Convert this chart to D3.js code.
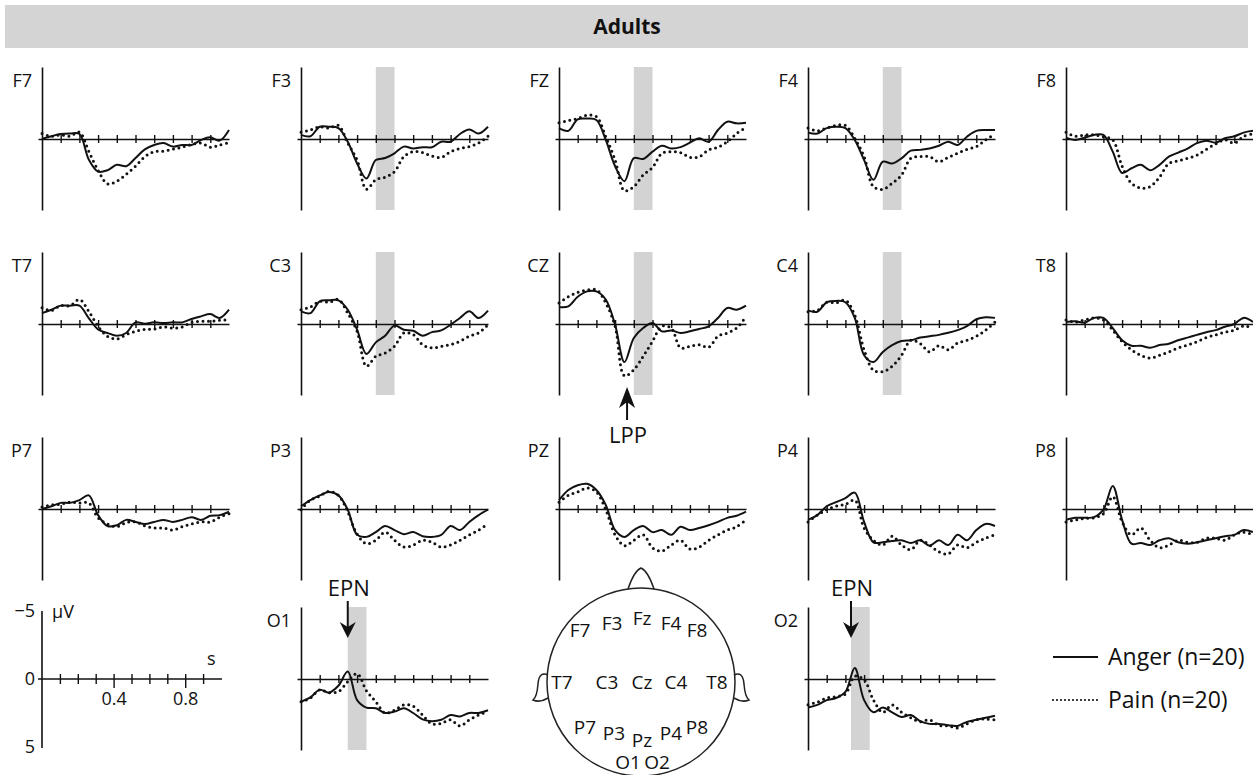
<!DOCTYPE html>
<html>
<head>
<meta charset="utf-8">
<script src="https://cdn.jsdelivr.net/npm/d3@7"></script>
<style>
  body { margin: 0; background: #fff; }
  text { font-family: "Open Sans", sans-serif; fill: #111; }
</style>
</head>
<body>
<div id="chart"></div>
<script>
// time points (s)
var times = [0, 0.05, 0.1, 0.15, 0.2, 0.25, 0.3, 0.35, 0.4, 0.45, 0.5,
             0.55, 0.6, 0.65, 0.7, 0.75, 0.8, 0.85, 0.9, 0.95, 1.0];

// amplitudes in µV (positive plotted down)
var anger_F7 = [0, -0.2, -0.37, -0.4, -0.37, 1.5, 2.4, 2.3, 1.9, 2.0, 1.4, 0.76, 0.44, 0.3, 0.56, 0.44, 0.44, 0.07, -0.12, 0.12, -0.66];
var pain_F7  = [-0.4, -0.2, -0.3, -0.2, -0.5, 0.9, 2.3, 3.3, 3.1, 2.6, 2.0, 1.3, 0.93, 0.9, 0.75, 0.6, 0.4, 0.3, 0.6, 0.45, 0.27];
var anger_F3 = [-0.3, -0.2, -0.9, -0.9, -0.8, 0.2, 1.8, 2.9, 1.55, 1.4, 1.05, 0.56, 0.7, 0.6, 0.6, 0.2, 0.2, -0.37, -0.7, -0.4, -0.9];
var pain_F3  = [-0.5, -0.66, -0.9, -0.8, -1.0, 0.3, 1.55, 3.7, 3.0, 2.8, 2.4, 1.3, 0.93, 1.0, 1.25, 1.35, 0.93, 0.7, 0.56, 0.3, -0.2];
var anger_FZ = [-0.8, -0.6, -1.45, -1.5, -1.4, 0.07, 2.0, 3.1, 1.4, 1.47, 0.93, 0.5, 0.7, 0.6, 0.27, -0.05, 0.2, -0.66, -1.27, -1.15, -1.2];
var pain_FZ  = [-1.2, -1.35, -1.5, -1.75, -1.65, -0.17, 1.55, 3.8, 3.5, 2.65, 2.1, 1.05, 0.93, 1.0, 1.35, 1.3, 0.8, 0.6, 0.2, -0.4, -0.86];
var anger_F4 = [-0.47, -0.4, -0.8, -0.9, -0.8, 0.07, 1.55, 3.0, 1.67, 1.8, 1.42, 0.86, 0.8, 0.7, 0.5, 0.2, 0.44, -0.17, -0.6, -0.66, -0.66];
var pain_F4  = [-0.8, -0.6, -0.8, -1.0, -1.0, -0.05, 1.3, 3.5, 3.7, 3.26, 2.65, 1.42, 1.3, 1.3, 1.67, 1.35, 1.05, 0.76, 0.56, 0.07, -0.37];
var anger_F8 = [-0.1, 0.07, -0.1, -0.3, -0.3, 0.93, 2.5, 2.15, 1.9, 2.3, 1.9, 1.3, 1.0, 0.7, 0.3, 0.12, 0.27, -0.05, -0.2, -0.47, -0.6];
var pain_F8  = [-0.5, -0.2, -0.3, -0.3, -0.17, 0.07, 2.0, 3.26, 3.6, 3.5, 2.8, 1.8, 1.6, 1.42, 1.18, 0.76, 0.37, 0.07, 0.3, -0.2, -0.37];

var anger_T7 = [-0.8, -1.05, -1.35, -1.35, -1.35, -0.44, 0.4, 0.66, 0.86, 0.66, -0.12, -0.02, -0.12, -0.07, -0.12, -0.12, -0.37, -0.56, -0.73, -0.44, -1.05];
var pain_T7  = [-1.2, -1.0, -1.35, -1.35, -1.8, -0.93, 0.17, 0.9, 1.1, 0.78, 0.54, 0.4, 0.37, 0.22, 0.3, 0.22, -0.12, -0.2, -0.2, -0.27, -0.32];
var anger_C3 = [-0.93, -0.8, -1.67, -1.74, -1.74, -1.05, 0.42, 2.2, 1.35, 0.86, 0.12, 0.42, 0.5, 0.86, 0.6, 0.47, 0.05, -0.44, -0.93, -0.44, -0.98];
var pain_C3  = [-1.05, -1.25, -1.67, -1.6, -1.8, -0.8, 0.54, 3.1, 2.38, 2.13, 1.64, 0.66, 0.78, 1.52, 1.76, 1.64, 1.52, 1.27, 0.9, 0.66, 0.05];
var anger_CZ = [-1.25, -1.3, -2.0, -2.4, -2.4, -1.8, 0.05, 2.8, 1.03, 0.3, -0.07, 0.54, 0.47, 0.66, 0.54, 0.37, 0.17, -0.44, -1.18, -1.05, -1.35];
var pain_CZ  = [-1.55, -2.0, -2.33, -2.5, -2.52, -1.55, 0.17, 3.8, 3.36, 2.38, 1.27, 0.17, 0.3, 1.76, 1.64, 1.52, 1.7, 0.9, 0.66, 0.3, -0.56];
var anger_C4 = [-1.0, -0.9, -1.6, -1.7, -1.6, -0.45, 2.3, 2.8, 2.05, 1.55, 1.25, 1.2, 1.0, 0.9, 0.8, 0.65, 0.45, 0.15, -0.35, -0.5, -0.45];
var pain_C4  = [-0.9, -1.0, -1.6, -1.55, -1.75, -0.65, 1.9, 3.4, 3.5, 3.1, 2.3, 1.2, 1.45, 2.05, 1.6, 1.9, 1.4, 1.2, 0.9, 0.45, -0.15];
var anger_T8 = [-0.15, -0.2, -0.1, -0.45, -0.45, 0.3, 1.2, 1.6, 1.6, 1.75, 1.55, 1.45, 1.2, 1.0, 0.8, 0.6, 0.45, 0.2, 0, -0.45, -0.15];
var pain_T8  = [-0.3, -0.15, -0.3, -0.45, -0.3, 0.45, 1.3, 1.9, 2.3, 2.5, 2.3, 2.05, 1.75, 1.55, 1.3, 1.0, 0.8, 0.6, 0.45, 0.15, 0.3];

var anger_P7 = [0, -0.2, -0.45, -0.45, -0.65, -1.0, 0.45, 1.25, 1.2, 0.8, 0.95, 1.1, 0.95, 0.8, 0.95, 0.8, 0.6, 0.8, 0.5, 0.45, 0.2];
var pain_P7  = [-0.15, -0.3, -0.35, -0.5, -0.45, -0.45, 0.65, 1.1, 1.3, 1.0, 0.95, 1.25, 1.4, 1.4, 1.55, 1.3, 1.1, 0.95, 0.95, 0.6, 0.35];
var anger_P3 = [-0.2, -0.65, -1.0, -1.25, -1.0, 0.05, 1.9, 2.05, 1.7, 1.25, 1.55, 1.85, 1.7, 2.0, 2.05, 1.9, 1.25, 1.55, 0.95, 0.45, 0.05];
var pain_P3  = [0.05, -0.65, -0.95, -1.3, -1.0, 0.2, 1.85, 2.55, 2.3, 1.7, 2.3, 2.8, 2.65, 2.3, 2.45, 2.8, 2.65, 2.3, 1.9, 1.55, 1.1];
var anger_PZ = [-0.65, -1.4, -1.75, -1.85, -1.4, -0.3, 1.55, 2.05, 1.55, 1.25, 1.7, 1.55, 1.9, 1.3, 1.55, 1.4, 1.2, 0.95, 0.65, 0.5, 0.2];
var pain_PZ  = [-0.5, -1.0, -1.25, -1.55, -1.25, 0.05, 1.9, 2.7, 2.3, 1.9, 2.85, 3.1, 2.65, 2.3, 2.95, 2.8, 2.3, 1.9, 1.55, 1.3, 0.8];
var anger_P4 = [0.8, 0.45, -0.2, -0.5, -0.8, -1.2, 0.95, 2.45, 2.45, 2.35, 2.3, 2.5, 2.3, 2.7, 2.3, 2.65, 1.9, 2.3, 1.55, 1.1, 1.25];
var pain_P4  = [0.95, 0.45, 0.05, -0.2, -0.35, -0.65, 1.4, 2.3, 2.65, 2.0, 2.65, 3.0, 2.3, 2.65, 3.15, 3.3, 2.65, 2.85, 2.45, 2.15, 1.9];
var anger_P8 = [0.8, 0.65, 0.65, 0.6, 0.05, -1.7, 0.8, 2.55, 2.5, 2.65, 2.3, 2.15, 2.45, 2.55, 2.45, 2.3, 2.15, 2.0, 1.9, 1.55, 1.7];
var pain_P8  = [0.95, 0.8, 0.7, 0.65, 0.35, -0.9, 0.95, 1.9, 1.4, 2.3, 2.85, 2.65, 2.3, 2.45, 2.45, 2.15, 2.15, 2.3, 1.9, 1.7, 1.9];

var anger_O1 = [1.67, 1.35, 0.8, 1.0, 0.5, -0.55, 1.55, 2.1, 2.15, 2.5, 2.4, 2.15, 2.5, 2.97, 3.1, 3.0, 2.65, 2.75, 2.5, 2.5, 2.3];
var pain_O1  = [1.67, 1.4, 0.8, 1.0, 0.93, 0.2, -0.4, 0.86, 1.67, 2.5, 2.3, 1.9, 2.0, 2.65, 3.3, 3.26, 3.0, 3.45, 3.0, 2.65, 2.4];
var anger_O2 = [2.1, 1.9, 1.55, 1.4, 0.95, -0.8, 1.55, 2.45, 2.1, 2.45, 2.8, 2.65, 3.1, 3.3, 3.3, 3.4, 3.45, 3.15, 3.0, 2.85, 2.7];
var pain_O2  = [1.9, 1.7, 1.4, 1.3, 1.1, -0.2, 0.05, 1.55, 2.45, 1.9, 2.45, 2.85, 3.15, 3.0, 3.4, 3.45, 3.6, 3.3, 3.0, 2.95, 3.0];

// tick positions (s)
var tickTimes = [0.1, 0.2, 0.3, 0.4, 0.5, 0.6, 0.7, 0.8, 0.9];
var scaleLabels = [0.4, 0.8];
var ampLabels = [-5, 0, 5];

// electrode labels on the head map
var headLabels = ["F7", "F3", "Fz", "F4", "F8", "T7", "C3", "Cz", "C4", "T8",
                  "P7", "P3", "Pz", "P4", "P8", "O1", "O2"];
var legendNames = ["Anger (n=20)", "Pain (n=20)"];

// ---- layout ----
var svgWidth = 1253, svgHeight = 775;
var colX = [42, 301, 559, 808, 1066];    // y-axis position of each column
var rowZero = [139, 324, 509, 679];      // zero line of each row
var pxPerSec = 187;
var up = 72, down = 71;                  // axis length above/below zero

var panels = [
  {name: "F7", c: 0, r: 0, a: anger_F7, p: pain_F7},
  {name: "F3", c: 1, r: 0, a: anger_F3, p: pain_F3, band: [0.4, 0.5]},
  {name: "FZ", c: 2, r: 0, a: anger_FZ, p: pain_FZ, band: [0.4, 0.5]},
  {name: "F4", c: 3, r: 0, a: anger_F4, p: pain_F4, band: [0.4, 0.5]},
  {name: "F8", c: 4, r: 0, a: anger_F8, p: pain_F8},
  {name: "T7", c: 0, r: 1, a: anger_T7, p: pain_T7},
  {name: "C3", c: 1, r: 1, a: anger_C3, p: pain_C3, band: [0.4, 0.5]},
  {name: "CZ", c: 2, r: 1, a: anger_CZ, p: pain_CZ, band: [0.4, 0.5]},
  {name: "C4", c: 3, r: 1, a: anger_C4, p: pain_C4, band: [0.4, 0.5]},
  {name: "T8", c: 4, r: 1, a: anger_T8, p: pain_T8},
  {name: "P7", c: 0, r: 2, a: anger_P7, p: pain_P7},
  {name: "P3", c: 1, r: 2, a: anger_P3, p: pain_P3},
  {name: "PZ", c: 2, r: 2, a: anger_PZ, p: pain_PZ},
  {name: "P4", c: 3, r: 2, a: anger_P4, p: pain_P4},
  {name: "P8", c: 4, r: 2, a: anger_P8, p: pain_P8},
  {name: "O1", c: 1, r: 3, a: anger_O1, p: pain_O1, band: [0.25, 0.35]},
  {name: "O2", c: 3, r: 3, a: anger_O2, p: pain_O2, band: [0.23, 0.33]}
];

var svg = d3.select("#chart").append("svg")
    .attr("width", svgWidth)
    .attr("height", svgHeight);

// title bar
svg.append("rect")
    .attr("x", 5).attr("y", 5).attr("width", 1243).attr("height", 43)
    .attr("fill", "#d4d4d4");
svg.append("text")
    .attr("x", 627).attr("y", 34)
    .attr("text-anchor", "middle")
    .attr("font-size", "21px").attr("font-weight", "bold")
    .text("Adults");

function makeScales(x0, zero, pps) {
  var x = d3.scaleLinear().domain([-4 / pps, 1]).range([x0 - 4, x0 + pps]);
  var y = d3.scaleLinear().domain([-up / 13.6, down / 13.6]).range([zero - up, zero + down]);
  return {x: x, y: y};
}

panels.forEach(function(p) {
  var x0 = colX[p.c], zero = rowZero[p.r];
  var s = makeScales(x0, zero, pxPerSec);
  var g = svg.append("g");

  if (p.band) {
    g.append("rect")
        .attr("x", s.x(p.band[0]))
        .attr("width", s.x(p.band[1]) - s.x(p.band[0]))
        .attr("y", zero - up)
        .attr("height", up + down)
        .attr("fill", "#d3d3d3");
  }

  // vertical axis
  g.append("g")
      .attr("transform", "translate(" + x0 + ",0)")
      .call(d3.axisLeft(s.y).tickValues([]).tickSizeOuter(0))
      .select(".domain").attr("stroke", "#111").attr("stroke-width", 1.6);

  // zero line with ticks
  var xa = g.append("g")
      .attr("transform", "translate(0," + zero + ")")
      .call(d3.axisBottom(s.x).tickValues(tickTimes).tickSize(4).tickSizeOuter(0).tickFormat(""));
  xa.select(".domain").attr("stroke", "#111").attr("stroke-width", 1.6);
  xa.selectAll(".tick line").attr("y1", -4).attr("y2", 4).attr("stroke", "#111").attr("stroke-width", 1.4);

  var line = d3.line()
      .x(function(d, i) { return s.x(times[i]); })
      .y(function(d) { return s.y(d); })
      .curve(d3.curveCatmullRom.alpha(0.5));

  g.append("path").datum(p.p)
      .attr("d", line)
      .attr("fill", "none")
      .attr("stroke", "#111")
      .attr("stroke-width", 3)
      .attr("stroke-linecap", "round")
      .attr("stroke-dasharray", "0 5.5");

  g.append("path").datum(p.a)
      .attr("d", line)
      .attr("fill", "none")
      .attr("stroke", "#111")
      .attr("stroke-width", 2);

  g.append("text")
      .attr("x", x0 - 10).attr("y", zero - 52)
      .attr("text-anchor", "end")
      .attr("font-size", "18px")
      .text(p.name);

  p.scales = s;
});

// ---- arrows ----
function downArrow(x, yTop, yTip) {
  svg.append("line").attr("x1", x).attr("x2", x).attr("y1", yTop).attr("y2", yTip - 8)
      .attr("stroke", "#111").attr("stroke-width", 2);
  svg.append("path")
      .attr("d", "M" + x + "," + yTip + " L" + (x - 8) + "," + (yTip - 16) + " L" + x + "," + (yTip - 11) +
                 " L" + (x + 8) + "," + (yTip - 16) + " Z")
      .attr("fill", "#111");
}
function upArrow(x, yTip, yBottom) {
  svg.append("line").attr("x1", x).attr("x2", x).attr("y1", yTip + 8).attr("y2", yBottom)
      .attr("stroke", "#111").attr("stroke-width", 2);
  svg.append("path")
      .attr("d", "M" + x + "," + yTip + " L" + (x - 8) + "," + (yTip + 21) + " L" + x + "," + (yTip + 15) +
                 " L" + (x + 8) + "," + (yTip + 21) + " Z")
      .attr("fill", "#111");
}

var o1 = panels.find(function(p) { return p.name === "O1"; });
var o2 = panels.find(function(p) { return p.name === "O2"; });
var cz = panels.find(function(p) { return p.name === "CZ"; });

[o1, o2].forEach(function(p) {
  var ax = p.scales.x(p.band[0]);
  downArrow(ax, 601, 638);
  svg.append("text").attr("x", ax + 1).attr("y", 596)
      .attr("text-anchor", "middle").attr("font-size", "22px").text("EPN");
});

var lx = cz.scales.x(0.364);
upArrow(lx, 387, 420);
svg.append("text").attr("x", lx + 1).attr("y", 443)
    .attr("text-anchor", "middle").attr("font-size", "22px").text("LPP");

// ---- scale panel ----
(function() {
  var x0 = colX[0], zero = rowZero[3];
  var s = makeScales(x0, zero, 179);
  var g = svg.append("g");
  var ya = g.append("g")
      .attr("transform", "translate(" + x0 + ",0)")
      .call(d3.axisLeft(s.y).tickValues(ampLabels).tickSize(0).tickSizeOuter(0).tickPadding(7));
  ya.select(".domain").attr("stroke", "#111").attr("stroke-width", 1.6)
      .attr("d", "M0," + (zero - 68) + "V" + (zero + 69));
  ya.selectAll(".tick text").attr("font-size", "18px").attr("fill", "#111")
      .attr("font-family", "Open Sans, sans-serif");

  var xa = g.append("g")
      .attr("transform", "translate(0," + zero + ")")
      .call(d3.axisBottom(s.x).tickValues(tickTimes).tickSize(4).tickSizeOuter(0)
            .tickFormat(function(d) { return scaleLabels.indexOf(d) >= 0 ? d3.format(".1f")(d) : ""; }));
  xa.select(".domain").attr("stroke", "#111").attr("stroke-width", 1.6)
      .attr("d", "M" + (x0 - 4) + ",0H" + (x0 + 180));
  xa.selectAll(".tick line")
      .attr("y1", -5)
      .attr("y2", function(d) { return scaleLabels.indexOf(d) >= 0 ? 9 : 5; })
      .attr("stroke", "#111").attr("stroke-width", 1.4);
  xa.selectAll(".tick text").attr("font-size", "18px").attr("fill", "#111")
      .attr("font-family", "Open Sans, sans-serif").attr("y", 13);

  g.append("text").attr("x", x0 + 10).attr("y", zero - 61).attr("font-size", "18px").text("μV");
  g.append("text").attr("x", x0 + 165).attr("y", zero - 14).attr("font-size", "18px").text("s");
})();

// ---- head map ----
(function() {
  var cx = 641, cy = 682, r = 94;
  var g = svg.append("g").attr("fill", "none").attr("stroke", "#222").attr("stroke-width", 1.5);
  g.append("path").attr("d", "M628,589 Q634,571 641,568 Q648,571 654,589").attr("fill", "#fff");
  g.append("circle").attr("cx", cx).attr("cy", cy).attr("r", r).attr("fill", "#fff");
  g.append("path").attr("d", "M548,675 Q539,671 538,684 Q537,697 533,700 Q540,703 548,698");
  g.append("path").attr("d", "M734,675 Q743,671 744,684 Q745,697 749,700 Q742,703 734,698");

  var pos = [[580, 637], [612, 630], [642, 625], [671, 630], [697, 637],
             [562, 689], [607, 689], [642, 689], [676, 689], [717, 689],
             [585, 734], [614, 740], [642, 747], [671, 740], [697, 734],
             [628, 769], [657, 769]];
  svg.append("g").selectAll("text")
      .data(headLabels)
      .enter().append("text")
      .attr("x", function(d, i) { return pos[i][0]; })
      .attr("y", function(d, i) { return pos[i][1]; })
      .attr("text-anchor", "middle")
      .attr("font-family", "Liberation Sans, Arial, sans-serif")
      .attr("font-size", "19px")
      .text(function(d) { return d; });
})();

// ---- legend ----
var legend = svg.append("g");
legendNames.forEach(function(name, i) {
  var yy = 657 + i * 43;
  legend.append("line")
      .attr("x1", 1053).attr("x2", 1098).attr("y1", yy).attr("y2", yy)
      .attr("stroke", "#111")
      .attr("stroke-width", i === 0 ? 2 : 2.2)
      .attr("stroke-linecap", i === 0 ? "butt" : "round")
      .attr("stroke-dasharray", i === 0 ? null : "0 4");
  legend.append("text")
      .attr("x", 1108).attr("y", yy + 8)
      .attr("font-size", "23px")
      .text(name);
});
</script>
</body>
</html>
